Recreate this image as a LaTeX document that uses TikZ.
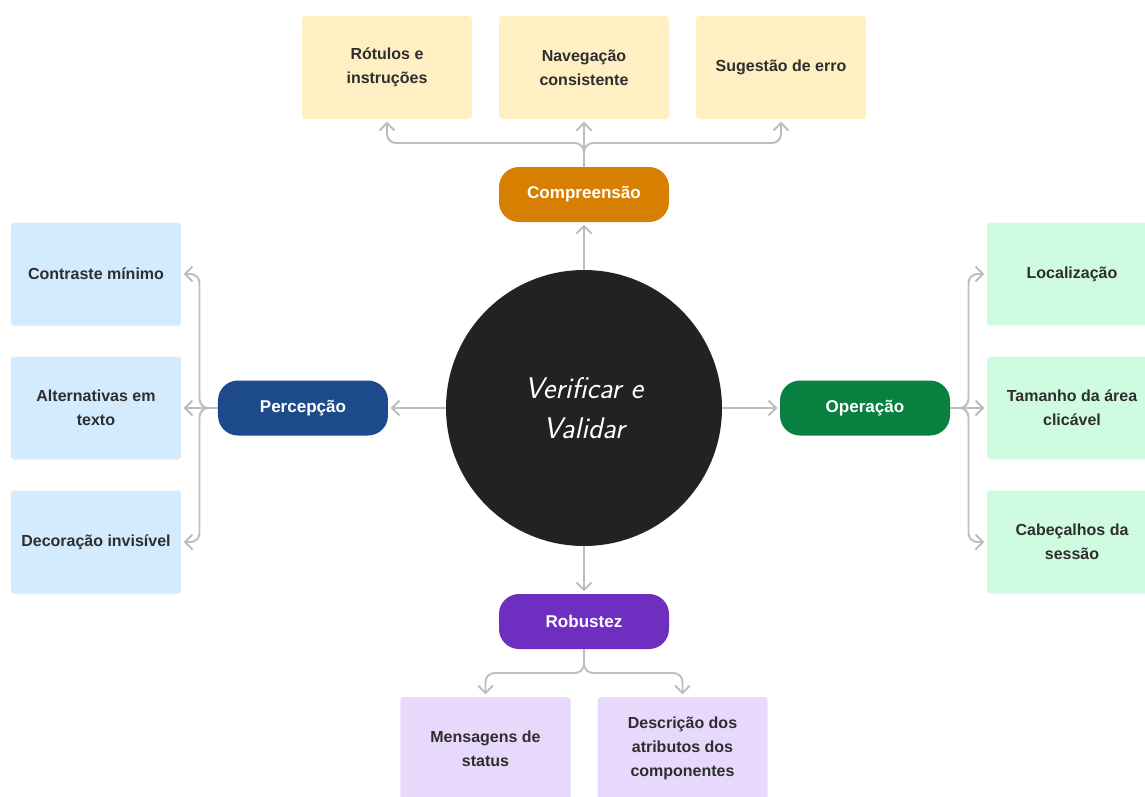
\documentclass[tikz,border=0pt]{standalone}
\usepackage{fontspec}
\setmainfont{Liberation Sans}
\usepackage{tikz}
\usetikzlibrary{arrows.meta,positioning}
\definecolor{ink}{HTML}{222222}
\definecolor{wire}{HTML}{BDBDBD}
\definecolor{label}{HTML}{2E2E2E}
\definecolor{amber}{HTML}{D67F00}
\definecolor{cream}{HTML}{FFF0C4}
\definecolor{navy}{HTML}{1C4A8A}
\definecolor{ice}{HTML}{D4EBFD}
\definecolor{leaf}{HTML}{08803F}
\definecolor{mint}{HTML}{CFFBE0}
\definecolor{grape}{HTML}{6E2EC0}
\definecolor{lilac}{HTML}{E8D9FC}
\tikzset{
  >={Straight Barb[length=1.5mm,width=3mm]},
  link/.style={->,line width=1.1pt,draw=wire,rounded corners=1.8mm,shorten >=1.5pt},
  hub/.style={circle,fill=ink,minimum size=5.52cm,outer sep=0pt,align=center,
    text=white,font=\sffamily\itshape\fontsize{17}{22.7}\selectfont},
  pill/.style={rounded corners=4mm,minimum width=3.4cm,minimum height=1.1cm,
    outer sep=0pt,text=white,font=\bfseries\fontsize{9.7}{12}\selectfont},
  card/.style={rounded corners=0.6mm,minimum width=3.4cm,minimum height=2.06cm,
    outer sep=0pt,align=center,text=label,font=\bfseries\fontsize{9.1}{13.6}\selectfont},
  yellowcard/.style={card,fill=cream},
  bluecard/.style={card,fill=ice},
  greencard/.style={card,fill=mint},
  purplecard/.style={card,fill=lilac}
}
\begin{document}
\begin{tikzpicture}
  \useasboundingbox (-11.68,-7.76) rectangle (11.22,8.16);
  \node[hub] (hub) at (0,0) {Verificar e\\Validar};
  % the four principles
  \node[pill,fill=amber,above=0.96cm of hub] (comp) {Compreensão};
  \node[pill,fill=navy,left=1.16cm of hub] (perc) {Percepção};
  \node[pill,fill=leaf,right=1.16cm of hub] (oper) {Operação};
  \node[pill,fill=grape,below=0.96cm of hub] (rob) {Robustez};
  % checks
  \node[yellowcard,above=0.96cm of comp] (t2) {Navegação\\consistente};
  \node[yellowcard,left=0.54cm of t2] (t1) {Rótulos e\\instruções};
  \node[yellowcard,right=0.54cm of t2] (t3) {Sugestão de erro};
  \node[bluecard,left=0.74cm of perc] (l2) {Alternativas em\\texto};
  \node[bluecard,above=0.62cm of l2] (l1) {Contraste mínimo};
  \node[bluecard,below=0.62cm of l2] (l3) {Decoração invisível};
  \node[greencard,right=0.74cm of oper] (r2) {Tamanho da área\\clicável};
  \node[greencard,above=0.62cm of r2] (r1) {Localização};
  \node[greencard,below=0.62cm of r2] (r3) {Cabeçalhos da\\sessão};
  \node[purplecard,below=0.96cm of rob,xshift=-1.97cm] (b1) {Mensagens de\\status};
  \node[purplecard,below=0.96cm of rob,xshift=1.97cm] (b2) {Descrição dos\\atributos dos\\componentes};
  % hub to principles
  \draw[link] (hub) -- (comp);
  \draw[link] (hub) -- (perc);
  \draw[link] (hub) -- (oper);
  \draw[link] (hub) -- (rob);
  % principles to checks
  \draw[link] (comp.north) -- ++(0,0.48) -| (t1.south);
  \draw[link] (comp.north) -- (t2.south);
  \draw[link] (comp.north) -- ++(0,0.48) -| (t3.south);
  \draw[link] (perc.west) -- ++(-0.37,0) |- (l1.east);
  \draw[link] (perc.west) -- (l2.east);
  \draw[link] (perc.west) -- ++(-0.37,0) |- (l3.east);
  \draw[link] (oper.east) -- ++(0.37,0) |- (r1.west);
  \draw[link] (oper.east) -- (r2.west);
  \draw[link] (oper.east) -- ++(0.37,0) |- (r3.west);
  \draw[link] (rob.south) -- ++(0,-0.48) -| (b1.north);
  \draw[link] (rob.south) -- ++(0,-0.48) -| (b2.north);
\end{tikzpicture}
\end{document}
